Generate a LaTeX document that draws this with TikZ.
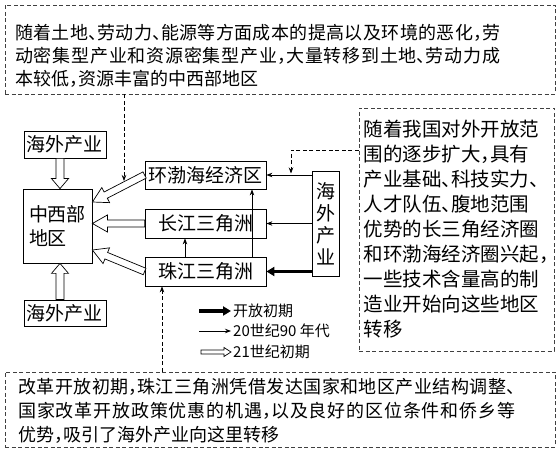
\documentclass[tikz,border=0pt]{standalone}
\usepackage{fontspec}
\setmainfont{Noto Sans CJK SC}
\XeTeXlinebreaklocale "zh"
\XeTeXlinebreakskip=0pt plus 2pt
\usetikzlibrary{arrows.meta, positioning, calc}

% half-width punctuation
\newcommand{\dun}{\makebox[.5em][l]{、}}
\newcommand{\dou}{\makebox[.5em][l]{，}}
% outlined arrow: head length, half shaft, half head, from, to
\newcommand{\hollowarrow}[5]{%
  \draw[hollow] let \p1=(#4), \p2=(#5), \p3=($(\p2)!#1!(\p1)$) in
    ($(\p1)!#2!90:(\p2)$) -- ($(\p3)!#2!90:(\p2)$) -- ($(\p3)!#3!90:(\p2)$) -- (\p2)
    -- ($(\p3)!#3!-90:(\p2)$) -- ($(\p3)!#2!-90:(\p2)$) -- ($(\p1)!#2!-90:(\p2)$) -- cycle;}

\begin{document}
\begin{tikzpicture}[x=1pt, y=1pt,
  region/.style={draw, line width=0.8pt, inner sep=0pt, font=\fontsize{19}{22}\selectfont, align=center},
  dashbox/.style={draw=black!75, line width=0.8pt, dash pattern=on 4pt off 2.5pt, inner sep=0pt},
  txt/.style={inner sep=0pt, font=\fontsize{18}{23}\selectfont},
  legtxt/.style={inner sep=0pt, font=\fontsize{15}{18}\selectfont},
  thinarr/.style={-{Stealth[length=6pt, width=4.5pt]}, line width=0.8pt},
  thickarr/.style={-{Triangle[length=8pt, width=9pt]}, line width=3.5pt},
  dasharr/.style={-{Stealth[length=6pt, width=4.5pt]}, line width=0.7pt, dash pattern=on 4pt off 2.5pt},
  hollow/.style={draw, fill=white, line width=0.7pt, line join=miter}
]
  \useasboundingbox (0,0) rectangle (558,461);

  % Explanation boxes
  \node[dashbox, minimum width=550pt, minimum height=89pt] (topbox) at (280,411.5) {};
  \node[txt, anchor=west, text width=485pt, align=justify] (toptxt) at (15,405) {随着土地\dun 劳动力\dun 能源等方面成本的提高以及环境的恶化\dou 劳\linebreak 动密集型产业和资源密集型产业\dou 大量转移到土地\dun 劳动力成\linebreak 本较低\dou 资源丰富的中西部地区};

  \node[dashbox, minimum width=195pt, minimum height=243pt, text width=186pt, align=left, font=\fontsize{19.5}{25}\selectfont] (rbox) at (456.5,231.5) {随着我国对外开放范\\围的逐步扩大\dou 具有\\产业基础\dun 科技实力\dun\\人才队伍\dun 腹地范围\\优势的长三角经济圈\\和环渤海经济圈兴起\dou\\一些技术含量高的制\\造业开始向这些地区\\转移};

  \node[dashbox, minimum width=550pt, minimum height=75pt] (bbox) at (280,51.5) {};
  \node[txt, anchor=west, text width=497pt, align=justify, font=\fontsize{18}{24}\selectfont] (btxt) at (18,50) {改革开放初期\dou 珠江三角洲凭借发达国家和地区产业结构调整\dun\linebreak 国家改革开放政策优惠的机遇\dou 以及良好的区位条件和侨乡等\linebreak 优势\dou 吸引了海外产业向这里转移};

  % Regions
  \node[region, minimum width=82pt, minimum height=27pt] (hw1) at (65,316.5) {海外产业};
  \node[region, minimum width=69pt, minimum height=74pt, align=left, font=\fontsize{19}{24}\selectfont] (zx) at (57.5,235) {中西部\\地区};
  \node[region, minimum width=82pt, minimum height=26pt] (hw2) at (65,148) {海外产业};
  \node[region, minimum width=121pt, minimum height=28pt] (hb) at (205.5,286) {环渤海经济区};
  \node[region, minimum width=121pt, minimum height=29pt] (cj) at (205.5,237.5) {长江三角洲};
  \node[region, minimum width=121pt, minimum height=29pt] (zj) at (205.5,189.5) {珠江三角洲};
  \node[region, minimum width=27pt, minimum height=105pt] (hw3) at (325.5,237.5) {海\\外\\产\\业};

  % Legend
  \node[legtxt, anchor=west] (lg1) at (233,150) {开放初期};
  \node[legtxt, anchor=west] (lg2) at (233,130) {20世纪90 年代};
  \node[legtxt, anchor=west] (lg3) at (233,109) {21世纪初期};
  \coordinate (l1) at (199,150);
  \coordinate (l2) at (199,130);
  \coordinate (l3) at (201,109);
  \draw[thickarr, shorten >=2pt] (l1) -- (lg1.west);
  \draw[thinarr, shorten >=2pt] (l2) -- (lg2.west);
  \hollowarrow{7pt}{2pt}{4.5pt}{l3}{$(lg3.west)+(-2,0)$}

  % Helper coordinates
  \coordinate (vin) at (60,0);
  \coordinate (v1) at (185,0);
  \coordinate (v2) at (252,0);
  \coordinate (d1) at (124,280);
  \coordinate (d2) at (162,0);
  \coordinate (rin) at (291,287.5);

  % Overseas industry into the three regions
  \draw[thinarr] (hw3.west |- hb.east) -- (hb.east);
  \draw[thinarr] (hw3.west |- cj.east) -- (cj.east);
  \draw[thickarr] (hw3.west |- zj.east) -- (zj.east);
  \draw[thinarr] (v1 |- zj.north) -- (v1 |- cj.south);
  \draw[thinarr] (v2 |- zj.north) -- (v2 |- hb.south);

  % Transfer to the central and western regions
  \hollowarrow{10pt}{4pt}{8.5pt}{vin |- hw1.south}{vin |- zx.north}
  \hollowarrow{10pt}{4pt}{8.5pt}{vin |- hw2.north}{vin |- zx.south}
  \hollowarrow{15pt}{3.5pt}{8.5pt}{hb.west}{$(zx.east)+(0,24)$}
  \hollowarrow{15pt}{3.5pt}{8.5pt}{cj.west}{cj.west -| zx.east}
  \hollowarrow{15pt}{3.5pt}{8.5pt}{zj.west}{$(zx.east)+(0,-24)$}

  % Explanations
  \draw[dasharr] (d1 |- topbox.south) -- (d1);
  \draw[dasharr] ([yshift=79.5pt]rbox.west) -| (rin);
  \draw[dasharr] (d2 |- bbox.north) -- (d2 |- zj.south);
\end{tikzpicture}
\end{document}
